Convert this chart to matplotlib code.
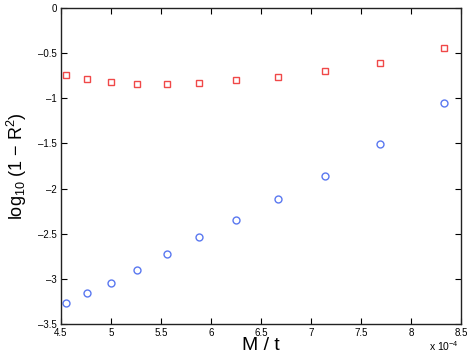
import matplotlib
matplotlib.use("Agg")
import matplotlib.pyplot as plt

plt.rcParams['font.family'] = ['Liberation Sans', 'DejaVu Sans']
plt.rcParams['mathtext.fontset'] = 'custom'
plt.rcParams['mathtext.rm'] = 'Liberation Sans'
plt.rcParams['mathtext.it'] = 'Liberation Sans'

x = [4.545, 4.762, 5.0, 5.263, 5.556, 5.882, 6.25, 6.667, 7.143, 7.692, 8.333]
red = [-0.74, -0.79, -0.82, -0.84, -0.84, -0.83, -0.80, -0.76, -0.70, -0.61, -0.44]
blue = [-3.27, -3.16, -3.05, -2.90, -2.72, -2.54, -2.35, -2.12, -1.86, -1.51, -1.05]
xticks = [4.5, 5, 5.5, 6, 6.5, 7, 7.5, 8, 8.5]
yticks = [-3.5, -3, -2.5, -2, -1.5, -1, -0.5, 0]

fig = plt.figure(figsize=(4.71, 3.57), dpi=100)
ax = fig.add_axes([61/471, 33/357, 400/471, 316/357])
ax.plot(x, red, linestyle='none', marker='s', markersize=4.5, markerfacecolor='none',
        markeredgecolor='#f04848', markeredgewidth=1.0)
ax.plot(x, blue, linestyle='none', marker='o', markersize=5, markerfacecolor='none',
        markeredgecolor='#5a78f0', markeredgewidth=1.0)
ax.set_xlim(4.5, 8.5)
ax.set_ylim(-3.5, 0)
ax.set_xticks(xticks)
ax.set_xticklabels([f"{t:g}" for t in xticks])
ax.set_yticks(yticks)
ax.set_yticklabels([f"{t:g}".replace('-', '\u2013') for t in yticks])
ax.tick_params(direction='in', top=True, right=True, labelsize=7, length=4, width=0.8, pad=3)
for s in ax.spines.values():
    s.set_linewidth(1.0)
    s.set_color('#222222')
ax.set_xlabel('M / t', fontsize=14, labelpad=-1)
ax.set_ylabel(r'log$_{10}$ (1 $-$ R$^2$)', fontsize=13)
ax.yaxis.set_label_coords(-0.08, 0.5)
fig.text(459/471, 4/357, r'x 10$^{-4}$', fontsize=7.5, ha='right', va='bottom')
fig.savefig('out.png', dpi=100)
